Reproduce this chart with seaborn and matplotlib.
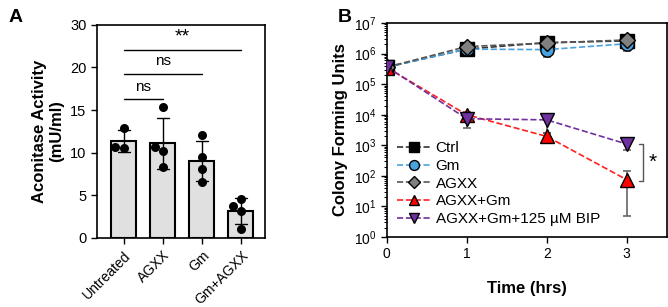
import numpy as np
import pandas as pd
import matplotlib
matplotlib.use("Agg")
import matplotlib.pyplot as plt
import matplotlib.ticker as mticker
import seaborn as sns

sns.set_style("ticks")
plt.rcParams['font.family'] = ['Liberation Sans', 'DejaVu Sans']
plt.rcParams['mathtext.fontset'] = 'custom'
plt.rcParams['mathtext.rm'] = 'Liberation Sans'
for k in ['text.color', 'axes.labelcolor', 'xtick.color', 'ytick.color', 'axes.edgecolor']:
    plt.rcParams[k] = 'black'

# Panel A data: individual replicates per condition
groups = ['Untreated', 'AGXX', 'Gm', 'Gm+AGXX']
untreated = [12.9, 10.7, 10.5]
agxx = [15.35, 10.65, 10.15, 8.3]
gm = [12.1, 9.5, 8.1, 6.6]
gm_agxx = [4.6, 3.8, 3.2, 1.1]

# Panel B data: CFU over time
time = [0, 1, 2, 3]
ctrl = [3.6e5, 1.4e6, 2.3e6, 2.6e6]
gm_cfu = [3.6e5, 1.4e6, 1.35e6, 2.1e6]
agxx_cfu = [3.6e5, 1.7e6, 2.2e6, 2.8e6]
agxx_gm = [3.5e5, 1.0e4, 1.95e3, 75]
agxx_gm_bip = [3.7e5, 7.4e3, 6.8e3, 1.1e3]
gm_lo = [3.3e5, 1.2e6, 8e5, 1.2e6]
gm_hi = [3.9e5, 1.6e6, 1.7e6, 2.9e6]
agxx_gm_lo = [3.2e5, 8e3, 1.4e3, 5]
agxx_gm_hi = [3.8e5, 1.2e4, 2.5e3, 140]
bip_lo = [3.4e5, 3.8e3, 2.6e3, 7e2]
bip_hi = [4.0e5, 9e3, 7.5e3, 1.3e3]

fig = plt.figure(figsize=(6.68, 3.07), dpi=100)
axA = fig.add_axes([0.145, 0.225, 0.252, 0.694])
axB = fig.add_axes([0.579, 0.228, 0.419, 0.697])

# ---- Panel A ----
dfA = pd.DataFrame({
    'group': sum([[g] * len(v) for g, v in zip(groups, [untreated, agxx, gm, gm_agxx])], []),
    'value': untreated + agxx + gm + gm_agxx,
})

# segmented axis: 0-20 linear, 20-30 compressed to half
def fwd(y):
    y = np.asarray(y, dtype=float)
    return np.where(y <= 20, y, 20 + (y - 20) / 2)

def inv(y):
    y = np.asarray(y, dtype=float)
    return np.where(y <= 20, y, 20 + (y - 20) * 2)

axA.set_yscale('function', functions=(fwd, inv))
sns.barplot(data=dfA, x='group', y='value', order=groups, errorbar='sd',
            color='#e0e0e0', edgecolor='black', linewidth=1.5, width=0.64,
            capsize=0.3, err_kws={'color': 'black', 'linewidth': 1.0}, ax=axA)
for p in axA.patches:
    p.set_facecolor('#e0e0e0')
sns.swarmplot(data=dfA, x='group', y='value', order=groups, color='black',
              size=6.5, ax=axA, zorder=5)
axA.set_ylim(0, 30)
axA.set_xlim(-0.69, 3.62)
axA.set_yticks([0, 5, 10, 15, 20, 30])
axA.yaxis.set_minor_locator(mticker.NullLocator())
axA.set_xlabel('')
axA.set_ylabel('Aconitase Activity\n(mU/ml)', fontsize=12, fontweight='bold', labelpad=4)
axA.tick_params(axis='y', labelsize=10.5, width=1, length=4)
axA.tick_params(axis='x', labelsize=10, width=1, length=4)
plt.setp(axA.get_xticklabels(), rotation=45, ha='right', rotation_mode='anchor')
for s in axA.spines.values():
    s.set_linewidth(1.2)

# significance bars
for x0, x1, y, txt in [(0, 1, 16.3, 'ns'), (0, 2, 19.25, 'ns'), (0, 3, 24.1, '**')]:
    axA.plot([x0, x1], [y, y], color='black', lw=1)
    ty = {16.3: 16.9, 19.25: 19.9}.get(y, 25.1)
    axA.text((x0 + x1) / 2, ty, txt, ha='center', va='bottom', fontsize=11 if txt == 'ns' else 14)

# ---- Panel B ----
series = [
    ('Ctrl', ctrl, None, None, 's', '#000000', '#333333'),
    ('Gm', gm_cfu, gm_lo, gm_hi, 'o', '#4aa3df', '#4aa3df'),
    ('AGXX', agxx_cfu, None, None, 'D', '#808080', '#555555'),
    ('AGXX+Gm', agxx_gm, agxx_gm_lo, agxx_gm_hi, '^', '#ff0000', '#ff2020'),
    ('AGXX+Gm+125 \u00b5M BIP', agxx_gm_bip, bip_lo, bip_hi, 'v', '#7030a0', '#7030a0'),
]
for name, vals, lo, hi, m, fc, lc in series:
    if lo is not None:
        vals_a = np.array(vals)
        yerr = [vals_a - np.array(lo), np.array(hi) - vals_a]
        axB.errorbar(time, vals, yerr=yerr, fmt='none', ecolor='#666666',
                     elinewidth=1.2, capsize=3, capthick=1.2, zorder=2)
for name, vals, lo, hi, m, fc, lc in series:
    sns.lineplot(x=time, y=vals, ax=axB, color=lc, linestyle='--', lw=1.2,
                 marker=m, markersize=9.5 if m != 'D' else 8.5, markerfacecolor=fc,
                 markeredgecolor='black', markeredgewidth=1, label=name,
                 zorder=3, dashes=(4, 2))

axB.set_yscale('log')
axB.set_ylim(1, 1e7)
axB.set_xlim(0, 3.5)
axB.set_xticks([0, 1, 2, 3])
axB.yaxis.set_major_locator(mticker.LogLocator(base=10, numticks=10))
axB.yaxis.set_minor_locator(mticker.LogLocator(base=10, subs=np.arange(2, 10), numticks=10))
axB.yaxis.set_major_formatter(mticker.FuncFormatter(lambda v, p: r'$10^{%d}$' % round(np.log10(v))))
axB.tick_params(axis='y', which='minor', length=2, width=0.7)
axB.tick_params(axis='both', which='major', labelsize=10, width=1, length=4)
axB.set_xlabel('Time (hrs)', fontsize=12, fontweight='bold', labelpad=14)
axB.set_ylabel('Colony Forming Units', fontsize=12, fontweight='bold', labelpad=4)
for s in axB.spines.values():
    s.set_linewidth(1.2)
leg = axB.legend(loc='lower left', bbox_to_anchor=(0.0, 0.0), frameon=False,
                 fontsize=11, handlelength=2.2, handletextpad=0.3, markerscale=0.75,
                 labelspacing=0.25, borderaxespad=0.3)

# significance bracket
axB.plot([3.16, 3.21, 3.21, 3.16], [1.1e3, 1.1e3, 70, 70], color='#555555', lw=1)
axB.text(3.27, 280, '*', fontsize=15, ha='left', va='center')

fig.text(0.012, 0.97, 'A', fontsize=14, fontweight='bold', va='top')
fig.text(0.505, 0.97, 'B', fontsize=14, fontweight='bold', va='top')

fig.savefig('out.png', dpi=100)
